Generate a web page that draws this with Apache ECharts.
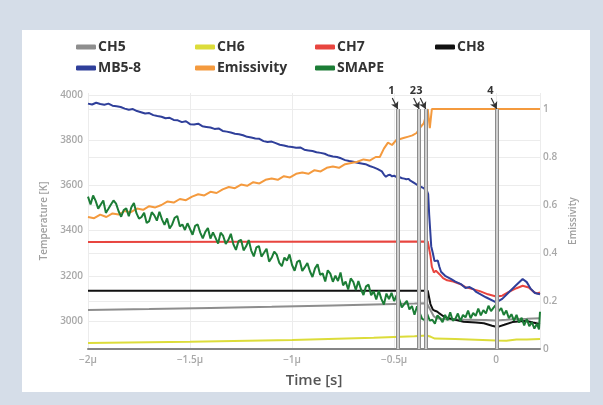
<!DOCTYPE html>
<html><head><meta charset="utf-8">
<script src="https://cdn.jsdelivr.net/npm/echarts@6/dist/echarts.min.js"></script>
<style>html,body{margin:0;padding:0;background:#d5dde8}#c{width:603px;height:405px}</style>
</head><body><div id="c"></div>
<script>
// ---- tick labels ----
const xTicks = [-2, -1.5, -1, -0.5, 0];
const xTickLabels = ['−2µ', '−1.5µ', '−1µ', '−0.5µ', '0'];
const tempTicks = [3000, 3200, 3400, 3600, 3800, 4000];
const emisTicks = [0, 0.2, 0.4, 0.6, 0.8, 1];
const emisTickLabels = ['0', '0.2', '0.4', '0.6', '0.8', '1'];

// ---- series (time in µs) ----
const ch5 = [[-2,3049],[-1.7,3053],[-1.4,3058],[-1.1,3063],[-0.8,3069],[-0.6,3073],[-0.4,3077],[-0.34,3079],[-0.333,3078],[-0.32,3045],[-0.305,3020],[-0.29,3012],[-0.25,3008],[-0.15,3006],[-0.05,3004],[0,3002],[0.05,3005],[0.1,3009],[0.15,3010],[0.215,3012]];
const ch6 = [[-2,2903],[-1.5,2908],[-1,2916],[-0.6,2926],[-0.4,2932],[-0.34,2936],[-0.333,2942],[-0.32,2930],[-0.3,2922],[-0.2,2920],[-0.1,2917],[0,2914],[0.05,2913],[0.1,2918],[0.15,2918],[0.215,2920]];
const ch7 = [[-2,3350],[-0.335,3352],[-0.33,3345],[-0.322,3290],[-0.315,3240],[-0.305,3215],[-0.295,3222],[-0.288,3228],[-0.275,3205],[-0.26,3190],[-0.24,3180],[-0.21,3175],[-0.18,3165],[-0.15,3150],[-0.12,3142],[-0.08,3132],[-0.04,3118],[0,3108],[0.03,3112],[0.06,3128],[0.1,3145],[0.13,3156],[0.16,3148],[0.185,3128],[0.2,3122],[0.215,3126]];
const ch8 = [[-2,3134],[-0.335,3134],[-0.33,3128],[-0.322,3075],[-0.31,3050],[-0.3,3045],[-0.29,3042],[-0.28,3035],[-0.26,3022],[-0.24,3014],[-0.2,3005],[-0.16,2997],[-0.1,2993],[-0.06,2990],[-0.02,2979],[0.005,2973],[0.04,2983],[0.08,2995],[0.12,2999],[0.15,3000],[0.18,2993],[0.215,2987]];
const mb58 = [[-2,3962],[-1.98,3958],[-1.96,3966],[-1.94,3960],[-1.92,3957],[-1.9,3962],[-1.88,3953],[-1.86,3950],[-1.84,3947],[-1.82,3940],[-1.8,3935],[-1.78,3938],[-1.76,3929],[-1.74,3924],[-1.72,3918],[-1.7,3920],[-1.68,3911],[-1.66,3907],[-1.64,3904],[-1.62,3897],[-1.6,3899],[-1.58,3890],[-1.56,3888],[-1.54,3880],[-1.52,3884],[-1.5,3871],[-1.48,3870],[-1.46,3873],[-1.44,3862],[-1.42,3859],[-1.4,3856],[-1.38,3850],[-1.36,3852],[-1.34,3841],[-1.32,3838],[-1.3,3834],[-1.28,3829],[-1.26,3826],[-1.24,3822],[-1.22,3815],[-1.2,3812],[-1.18,3808],[-1.16,3806],[-1.14,3796],[-1.12,3792],[-1.1,3794],[-1.08,3787],[-1.06,3780],[-1.04,3777],[-1.02,3772],[-1,3770],[-0.98,3767],[-0.96,3768],[-0.94,3758],[-0.92,3755],[-0.9,3752],[-0.88,3747],[-0.86,3744],[-0.84,3740],[-0.82,3732],[-0.8,3728],[-0.78,3726],[-0.76,3720],[-0.74,3712],[-0.72,3708],[-0.7,3705],[-0.68,3700],[-0.66,3697],[-0.64,3694],[-0.62,3686],[-0.6,3680],[-0.58,3672],[-0.56,3662],[-0.55,3648],[-0.54,3638],[-0.53,3645],[-0.52,3647],[-0.51,3640],[-0.5,3643],[-0.49,3638],[-0.48,3641],[-0.47,3635],[-0.46,3632],[-0.45,3630],[-0.44,3627],[-0.43,3629],[-0.42,3621],[-0.41,3616],[-0.4,3610],[-0.39,3604],[-0.38,3600],[-0.37,3594],[-0.36,3590],[-0.35,3585],[-0.342,3578],[-0.338,3574],[-0.333,3562],[-0.328,3470],[-0.323,3400],[-0.318,3330],[-0.31,3300],[-0.302,3265],[-0.294,3270],[-0.286,3268],[-0.278,3240],[-0.27,3218],[-0.25,3200],[-0.22,3185],[-0.2,3174],[-0.17,3162],[-0.15,3146],[-0.13,3150],[-0.11,3140],[-0.1,3130],[-0.05,3105],[0,3082],[0.03,3098],[0.06,3125],[0.1,3160],[0.13,3186],[0.15,3172],[0.17,3142],[0.19,3124],[0.215,3118]];
const emissivity = [[-2,0.55],[-1.97,0.545],[-1.94,0.56],[-1.91,0.55],[-1.88,0.565],[-1.85,0.56],[-1.82,0.575],[-1.79,0.57],[-1.76,0.585],[-1.73,0.58],[-1.7,0.595],[-1.67,0.59],[-1.64,0.6],[-1.61,0.615],[-1.58,0.61],[-1.55,0.625],[-1.52,0.62],[-1.49,0.635],[-1.46,0.645],[-1.43,0.64],[-1.4,0.655],[-1.37,0.65],[-1.34,0.665],[-1.31,0.675],[-1.28,0.67],[-1.25,0.685],[-1.22,0.68],[-1.19,0.695],[-1.16,0.69],[-1.13,0.705],[-1.1,0.71],[-1.07,0.705],[-1.04,0.72],[-1.01,0.715],[-0.98,0.73],[-0.95,0.735],[-0.92,0.73],[-0.89,0.745],[-0.86,0.74],[-0.83,0.755],[-0.8,0.76],[-0.77,0.755],[-0.74,0.77],[-0.71,0.775],[-0.68,0.78],[-0.65,0.79],[-0.62,0.785],[-0.59,0.8],[-0.57,0.8],[-0.55,0.835],[-0.53,0.86],[-0.51,0.85],[-0.49,0.87],[-0.47,0.875],[-0.45,0.88],[-0.43,0.885],[-0.41,0.89],[-0.39,0.9],[-0.37,0.925],[-0.355,0.94],[-0.345,0.97],[-0.335,1],[-0.325,0.92],[-0.315,1],[0.215,1]];
const smape = [[-2,0.635],[-1.9875,0.602],[-1.975,0.64],[-1.9625,0.617],[-1.95,0.585],[-1.9375,0.602],[-1.925,0.619],[-1.9125,0.567],[-1.9,0.584],[-1.8875,0.602],[-1.875,0.619],[-1.8625,0.606],[-1.85,0.574],[-1.8375,0.551],[-1.825,0.579],[-1.8125,0.586],[-1.8,0.553],[-1.7875,0.591],[-1.775,0.608],[-1.7625,0.566],[-1.75,0.543],[-1.7375,0.55],[-1.725,0.568],[-1.7125,0.525],[-1.7,0.533],[-1.6875,0.57],[-1.675,0.557],[-1.6625,0.535],[-1.65,0.572],[-1.6375,0.54],[-1.625,0.517],[-1.6125,0.544],[-1.6,0.502],[-1.5875,0.519],[-1.575,0.547],[-1.5625,0.554],[-1.55,0.511],[-1.5375,0.519],[-1.525,0.496],[-1.5125,0.524],[-1.5,0.5],[-1.4875,0.476],[-1.475,0.513],[-1.4625,0.519],[-1.45,0.485],[-1.4375,0.461],[-1.425,0.488],[-1.4125,0.504],[-1.4,0.46],[-1.3875,0.486],[-1.375,0.463],[-1.3625,0.439],[-1.35,0.485],[-1.3375,0.471],[-1.325,0.438],[-1.3125,0.454],[-1.3,0.48],[-1.2875,0.436],[-1.275,0.413],[-1.2625,0.449],[-1.25,0.455],[-1.2375,0.411],[-1.225,0.428],[-1.2125,0.454],[-1.2,0.41],[-1.1875,0.386],[-1.175,0.423],[-1.1625,0.429],[-1.15,0.385],[-1.1375,0.401],[-1.125,0.418],[-1.1125,0.364],[-1.1,0.38],[-1.0875,0.406],[-1.075,0.393],[-1.0625,0.359],[-1.05,0.345],[-1.0375,0.381],[-1.025,0.368],[-1.0125,0.394],[-1,0.35],[-0.9875,0.326],[-0.975,0.363],[-0.9625,0.369],[-0.95,0.325],[-0.9375,0.341],[-0.925,0.358],[-0.9125,0.324],[-0.9,0.3],[-0.8875,0.336],[-0.875,0.353],[-0.8625,0.309],[-0.85,0.315],[-0.8375,0.281],[-0.825,0.328],[-0.8125,0.314],[-0.8,0.28],[-0.7875,0.306],[-0.775,0.283],[-0.7625,0.319],[-0.75,0.265],[-0.7375,0.281],[-0.725,0.248],[-0.7125,0.294],[-0.7,0.28],[-0.6875,0.246],[-0.675,0.283],[-0.6625,0.249],[-0.65,0.225],[-0.6375,0.261],[-0.625,0.268],[-0.6125,0.224],[-0.6,0.24],[-0.5875,0.206],[-0.575,0.243],[-0.5625,0.209],[-0.55,0.185],[-0.5375,0.231],[-0.525,0.208],[-0.5125,0.234],[-0.5,0.2],[-0.4875,0.224],[-0.475,0.208],[-0.4625,0.173],[-0.45,0.187],[-0.4375,0.201],[-0.425,0.165],[-0.4125,0.179],[-0.4,0.143],[-0.3875,0.178],[-0.375,0.152],[-0.3625,0.126],[-0.35,0.12],[-0.3375,0.145],[-0.325,0.118],[-0.3125,0.122],[-0.3,0.105],[-0.2875,0.14],[-0.275,0.128],[-0.2625,0.112],[-0.25,0.142],[-0.2375,0.12],[-0.225,0.153],[-0.2125,0.118],[-0.2,0.125],[-0.1875,0.148],[-0.175,0.116],[-0.1625,0.142],[-0.15,0.132],[-0.1375,0.16],[-0.125,0.128],[-0.1125,0.15],[-0.1,0.138],[-0.0875,0.168],[-0.075,0.14],[-0.0625,0.162],[-0.05,0.148],[-0.0375,0.18],[-0.025,0.158],[-0.0125,0.172],[0,0.185],[0.0125,0.158],[0.025,0.17],[0.0375,0.142],[0.05,0.16],[0.0625,0.128],[0.075,0.145],[0.0875,0.118],[0.1,0.142],[0.1125,0.11],[0.125,0.13],[0.1375,0.098],[0.15,0.125],[0.1625,0.095],[0.175,0.112],[0.1875,0.085],[0.2,0.105],[0.21,0.082],[0.215,0.155]];

// ---- event markers ----
const markerNames = ['1', '2', '3', '4'];
const markerTimes = [-0.482, -0.377, -0.345, 0.003];

const FONT = '"Open Sans", "Noto Sans", sans-serif';
const defs = [
  {name: 'CH5', data: ch5, color: '#8e8e8e', axis: 0},
  {name: 'CH6', data: ch6, color: '#dcdc3a', axis: 0},
  {name: 'CH7', data: ch7, color: '#e8453f', axis: 0},
  {name: 'CH8', data: ch8, color: '#111111', axis: 0},
  {name: 'MB5-8', data: mb58, color: '#2f3f9a', axis: 0},
  {name: 'Emissivity', data: emissivity, color: '#f49a3e', axis: 1},
  {name: 'SMAPE', data: smape, color: '#1c7d36', axis: 1}
];
const legendPos = [[76, 40], [195, 40], [315, 40], [435, 40], [76, 61], [195, 61], [315, 61]];

const series = defs.map(d => ({
  name: d.name, type: 'line', data: d.data, yAxisIndex: d.axis,
  showSymbol: false, symbol: 'none', z: 3,
  lineStyle: {color: d.color, width: 2}, itemStyle: {color: d.color}
}));

const vOuter = markerTimes.map(t => [{coord: [t, 0]}, {coord: [t, 1]}]);
const arrows = markerTimes.map((t, i) => [
  {coord: [t - 0.027, 1.046], name: markerNames[i]},
  {coord: [t, 1.0]}
]);
series.unshift({
  type: 'line', data: [], yAxisIndex: 1, z: 2, silent: true,
  markLine: {silent: true, symbol: 'none', animation: false,
    lineStyle: {color: '#8c8c8c', width: 4, type: 'solid'}, label: {show: false}, data: vOuter}
}, {
  type: 'line', data: [], yAxisIndex: 1, z: 2, silent: true,
  markLine: {silent: true, symbol: 'none', animation: false,
    lineStyle: {color: '#cfcfcf', width: 2, type: 'solid'}, label: {show: false}, data: vOuter}
}, {
  type: 'line', data: [], yAxisIndex: 1, z: 5, silent: true,
  markLine: {silent: true, symbol: ['none', 'arrow'], symbolSize: [6, 7], animation: false,
    lineStyle: {color: '#333', width: 1.2, type: 'solid'},
    label: {show: true, position: 'start', formatter: p => p.name, color: '#333', fontSize: 11, fontWeight: 'bold', fontFamily: FONT, distance: 2},
    data: arrows}
});

const legends = defs.map((d, i) => ({
  data: [d.name], left: legendPos[i][0], top: legendPos[i][1], padding: 0,
  icon: 'roundRect', itemWidth: 20, itemHeight: 5, selectedMode: false,
  textStyle: {fontFamily: FONT, fontSize: 14, fontWeight: 'bold', color: '#333', padding: [0, 0, 0, -3]}
}));

const chart = echarts.init(document.getElementById('c'));
chart.setOption({
  backgroundColor: '#d5dde8',
  animation: false,
  graphic: [{type: 'rect', shape: {x: 22, y: 30, width: 568, height: 362}, style: {fill: '#ffffff'}, z: -10, silent: true}],
  legend: legends,
  grid: {left: 88, right: 63, top: 93, bottom: 56, containLabel: false},
  xAxis: {
    type: 'value', min: -2, max: 0.215, interval: 0.5,
    axisLine: {show: true, onZero: false, lineStyle: {color: '#858585', width: 2}},
    axisTick: {show: false},
    axisLabel: {color: '#a8a8a8', fontSize: 10, fontFamily: FONT, fontWeight: 600, margin: 6,
      formatter: v => { const i = xTicks.indexOf(v); return i >= 0 ? xTickLabels[i] : ''; }},
    splitLine: {show: true, lineStyle: {color: '#ececec', width: 1}},
    name: 'Time [s]', nameLocation: 'middle', nameGap: 24,
    nameTextStyle: {fontFamily: FONT, fontSize: 15, fontWeight: 600, color: '#555'}
  },
  yAxis: [{
    type: 'value', min: 2876, max: 4009, position: 'left',
    axisLine: {show: false}, axisTick: {show: false, customValues: tempTicks},
    axisLabel: {customValues: tempTicks, color: '#a8a8a8', fontSize: 10, fontFamily: FONT, fontWeight: 600, margin: 5,
      formatter: v => String(Math.round(v))},
    splitLine: {show: true, lineStyle: {color: '#ececec', width: 1}},
    name: 'Temperature [K]', nameLocation: 'middle', nameGap: 39, nameRotate: 90,
    nameTextStyle: {fontFamily: FONT, fontSize: 10, fontWeight: 600, color: '#a0a0a0'}
  }, {
    type: 'value', min: 0, max: 1.0667, position: 'right',
    axisLine: {show: false}, axisTick: {show: false, customValues: emisTicks},
    axisLabel: {customValues: emisTicks, color: '#a8a8a8', fontSize: 10, fontFamily: FONT, fontWeight: 600, margin: 3,
      formatter: v => { const i = emisTicks.findIndex(e => Math.abs(e - v) < 1e-9); return i >= 0 ? emisTickLabels[i] : ''; }},
    splitLine: {show: true, lineStyle: {color: '#ececec', width: 1}},
    name: 'Emissivity', nameLocation: 'middle', nameGap: 28, nameRotate: 90,
    nameTextStyle: {fontFamily: FONT, fontSize: 10, fontWeight: 600, color: '#a0a0a0'}
  }],
  series: series
});
</script></body></html>
